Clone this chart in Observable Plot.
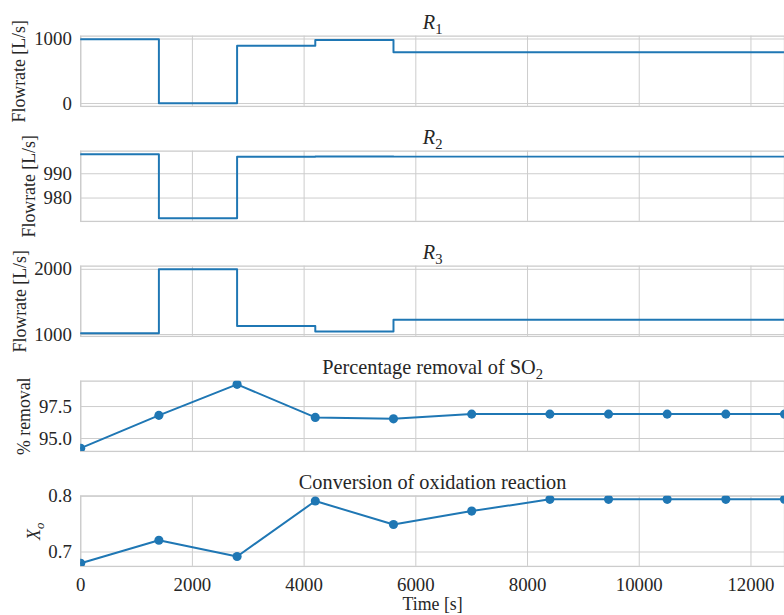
<!DOCTYPE html>
<html>
<head>
<meta charset="utf-8">
<script src="https://cdn.jsdelivr.net/npm/d3@7"></script>
<script src="https://cdn.jsdelivr.net/npm/@observablehq/plot@0.6"></script>
<style>
  html, body { margin: 0; padding: 0; background: white; overflow: hidden; }
  #wrap { position: relative; width: 784px; height: 615px; overflow: hidden; }
  #wrap svg { position: absolute; left: 0; overflow: visible; }
</style>
</head>
<body>
<div id="wrap"></div>
<script>
// ---- data ----
const stepTimes = [0, 1400, 2800, 4200, 5600, 12600];
const flowR1 = [995, 5, 895, 983, 794, 794];
const flowR2 = [998.0, 971.7, 997.0, 997.15, 997.05, 997.05];
const flowR3 = [1020, 2000, 1130, 1045, 1228, 1228];
const sampleTimes = [0, 1400, 2800, 4200, 5600, 7000, 8400, 9450, 10500, 11550, 12600];
const removalSO2 = [94.24, 96.81, 99.24, 96.65, 96.54, 96.91, 96.91, 96.91, 96.91, 96.91, 96.91];
const conversionXo = [0.680, 0.721, 0.692, 0.791, 0.749, 0.773, 0.794, 0.794, 0.794, 0.794, 0.794];
const xTicks = [0, 2000, 4000, 6000, 8000, 10000, 12000];
const yTicksR1 = [0, 1000];
const yTicksR2 = [980, 990];
const yTicksR3 = [1000, 2000];
const yTicksRemoval = [95.0, 97.5];
const yTicksConv = [0.7, 0.8];
const titles = ["R_1", "R_2", "R_3", "Percentage removal of SO_2", "Conversion of oxidation reaction"];
const yLabels = ["Flowrate [L/s]", "Flowrate [L/s]", "Flowrate [L/s]", "% removal", "X_o"];
const xLabel = "Time [s]";

// ---- style ----
const COLOR = "#1f77b4";
const GRID = "#cccccc";
const TEXT = "#262626";
const FONT = "'Liberation Serif', 'DejaVu Serif', serif";
const ML = 81, W = 792, H = 71, MT = 36;
const tops = [35.7, 150.7, 265.7, 380.7, 495.7];
const labelXs = [19, 29, 20, 24, 34];

function rows(xs, ys) { return xs.map((x, i) => ({x, y: ys[i]})); }
function marginDomain(v) {
  const [a, b] = d3.extent(v); const m = (b - a) * 0.05; return [a - m, b + m];
}

const panels = [
  {data: rows(stepTimes, flowR1), step: true, ticks: yTicksR1, fmt: d3.format("d")},
  {data: rows(stepTimes, flowR2), step: true, ticks: yTicksR2, fmt: d3.format("d")},
  {data: rows(stepTimes, flowR3), step: true, ticks: yTicksR3, fmt: d3.format("d")},
  {data: rows(sampleTimes, removalSO2), step: false, ticks: yTicksRemoval, fmt: d3.format(".1f")},
  {data: rows(sampleTimes, conversionXo), step: false, ticks: yTicksConv, fmt: d3.format(".1f")}
];

function richify(svg) {
  d3.select(svg).selectAll("text").each(function() {
    const s = this.textContent;
    if (!s.includes("_")) return;
    const el = d3.select(this);
    el.text(null);
    const math = /^([A-Za-z])_(\w+)$/.exec(s);
    if (math) {
      el.append("tspan").attr("font-style", "italic").text(math[1]);
      el.append("tspan").attr("font-size", "72%").attr("dy", "0.3em")
        .attr("font-style", /[a-z]/.test(math[2]) ? "italic" : null).text(math[2]);
    } else {
      const m = /^(.*)_(\w+)$/.exec(s);
      el.append("tspan").text(m[1]);
      el.append("tspan").attr("font-size", "72%").attr("dy", "0.3em").text(m[2]);
    }
  });
}

const wrap = document.getElementById("wrap");
panels.forEach((p, i) => {
  const last = i === panels.length - 1;
  const MB = last ? 50 : 2;
  const marks = [
    Plot.ruleX(xTicks, {stroke: GRID, strokeWidth: 1}),
    Plot.ruleY(p.ticks, {stroke: GRID, strokeWidth: 1}),
    Plot.frame({stroke: GRID, strokeWidth: 1.3}),
    p.step
      ? Plot.line(p.data, {x: "x", y: "y", curve: "step-after", stroke: COLOR, strokeWidth: 2, clip: true})
      : Plot.line(p.data, {x: "x", y: "y", stroke: COLOR, strokeWidth: 2, clip: true}),
    // y tick labels
    Plot.text(p.ticks, {y: d => d, text: d => p.fmt(d), frameAnchor: "left", textAnchor: "end", dx: -9, fontSize: 19, fill: TEXT}),
    Plot.text([titles[i]], {frameAnchor: "top", dy: -7, lineAnchor: "bottom", fontSize: 20.5, fill: TEXT}),
    Plot.text([yLabels[i]], {frameAnchor: "left", rotate: -90, dx: labelXs[i] - ML, textAnchor: "middle", lineAnchor: "middle", fontSize: 18, fill: TEXT})
  ];
  if (!p.step) marks.push(Plot.dot(p.data, {x: "x", y: "y", r: 4.6, fill: COLOR, stroke: "none", clip: true}));
  if (last) {
    marks.push(Plot.text(xTicks, {x: d => d, text: d => d3.format("d")(d), frameAnchor: "bottom", lineAnchor: "top", dy: 11, fontSize: 19, fill: TEXT}));
    marks.push(Plot.text([xLabel], {frameAnchor: "bottom", dy: 44, lineAnchor: "bottom", fontSize: 18, fill: TEXT}));
  }
  const svg = Plot.plot({
    width: W,
    height: MT + H + MB,
    marginLeft: ML, marginRight: 0, marginTop: MT, marginBottom: MB,
    style: {fontFamily: FONT, fontSize: "19px", color: TEXT, background: "transparent", overflow: "visible"},
    x: {domain: [0, 12600], axis: null},
    y: {domain: marginDomain(p.data.map(d => d.y)), axis: null},
    marks
  });
  richify(svg);
  svg.style.top = (tops[i] - MT) + "px";
  wrap.appendChild(svg);
});
</script>
</body>
</html>
